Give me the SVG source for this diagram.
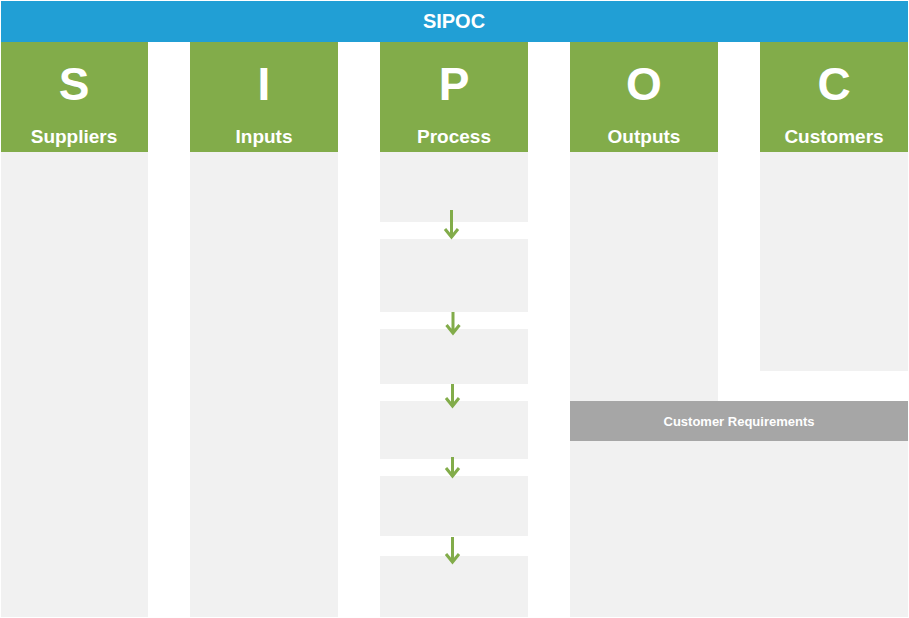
<svg xmlns="http://www.w3.org/2000/svg" width="909" height="618" viewBox="0 0 909 618">
<style>
.hd{fill:#219fd5}
.gr{fill:#82ac4a}
.bx{fill:#f1f1f1}
.big{font-family:"Liberation Sans",Arial,sans-serif;font-weight:bold;font-size:46px;fill:#fff;text-anchor:middle}
.lbl{font-family:"Liberation Sans",Arial,sans-serif;font-weight:bold;font-size:19px;fill:#fff;text-anchor:middle}
.ttl{font-family:"Liberation Sans",Arial,sans-serif;font-weight:bold;font-size:20px;fill:#fff;text-anchor:middle}
.req{font-family:"Liberation Sans",Arial,sans-serif;font-weight:bold;font-size:13px;fill:#fff;text-anchor:middle}
.ar{stroke:#82ac4a;stroke-width:3;fill:none}
</style>
<rect width="909" height="618" fill="#fff"/>
<g id="title">
<rect class="hd" x="1" y="1" width="907" height="41"/>
<text class="ttl" x="454" y="28">SIPOC</text>
</g>
<g id="suppliers">
<rect class="bx" x="1" y="152" width="147" height="465"/>
<rect class="gr" x="1" y="42" width="147" height="110"/>
<text class="big" x="74" y="100">S</text>
<text class="lbl" x="74" y="143">Suppliers</text>
</g>
<g id="inputs">
<rect class="bx" x="190" y="152" width="148" height="465"/>
<rect class="gr" x="190" y="42" width="148" height="110"/>
<text class="big" x="264" y="100">I</text>
<text class="lbl" x="264" y="143">Inputs</text>
</g>
<g id="process">
<rect class="gr" x="380" y="42" width="148" height="110"/>
<text class="big" x="454" y="100">P</text>
<text class="lbl" x="454" y="143">Process</text>
</g>
<g id="step1"><rect class="bx" x="380" y="152" width="148" height="70"/></g>
<g id="step2"><rect class="bx" x="380" y="239" width="148" height="73"/></g>
<g id="step3"><rect class="bx" x="380" y="329" width="148" height="55"/></g>
<g id="step4"><rect class="bx" x="380" y="401" width="148" height="58"/></g>
<g id="step5"><rect class="bx" x="380" y="476" width="148" height="60"/></g>
<g id="step6"><rect class="bx" x="380" y="556" width="148" height="61"/></g>
<g id="outputs">
<rect class="bx" x="570" y="152" width="148" height="249"/>
<rect class="gr" x="570" y="42" width="148" height="110"/>
<text class="big" x="644" y="100">O</text>
<text class="lbl" x="644" y="143">Outputs</text>
</g>
<g id="customers">
<rect class="bx" x="760" y="152" width="148" height="219"/>
<rect class="gr" x="760" y="42" width="148" height="110"/>
<text class="big" x="834" y="100">C</text>
<text class="lbl" x="834" y="143">Customers</text>
</g>
<g id="requirements">
<rect fill="#a6a6a6" x="570" y="401" width="338" height="40"/>
<text class="req" x="739" y="426">Customer Requirements</text>
<rect class="bx" x="570" y="441" width="338" height="176"/>
</g>
<g id="connectors">
<path class="ar" d="M451.5 210V237M445 229l6.5 8 6.5-8"/>
<path class="ar" d="M453 312V333M446.5 325l6.5 8 6.5-8"/>
<path class="ar" d="M452.5 384V406M446 398l6.5 8 6.5-8"/>
<path class="ar" d="M452.5 457V476M446 468l6.5 8 6.5-8"/>
<path class="ar" d="M452.5 537V562M446 554l6.5 8 6.5-8"/>
</g>
</svg>
